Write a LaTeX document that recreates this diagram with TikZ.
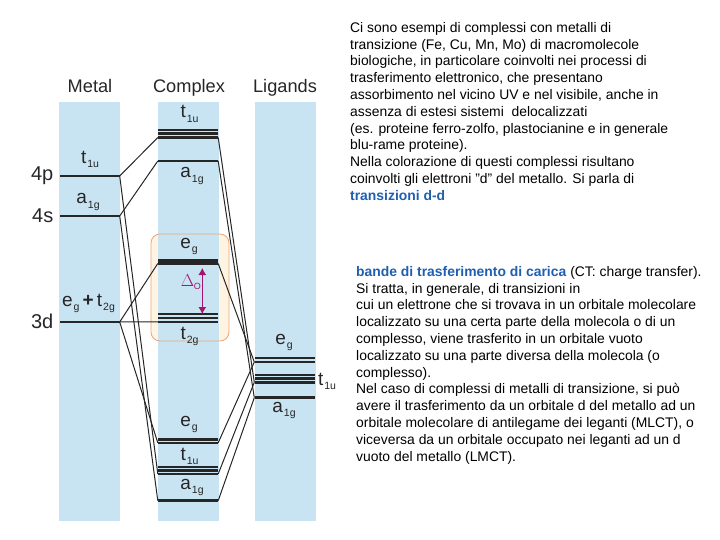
\documentclass[tikz,border=0pt]{standalone}
\usepackage{fontspec}
\setmainfont{Liberation Sans}
\usepackage{xcolor}
\usetikzlibrary{arrows.meta}
\definecolor{colblue}{HTML}{C8E4F2}
\definecolor{boxfill}{HTML}{FFF3E2}
\definecolor{boxline}{HTML}{E6A87C}
\definecolor{inkdark}{HTML}{262626}
\definecolor{textblue}{HTML}{1F5FB0}
\definecolor{deltacol}{HTML}{A3146F}
\tikzset{
  level/.style    = {shape=rectangle, fill=inkdark, inner sep=0pt,
                     minimum height=2.6pt, minimum width=60pt},
  link/.style     = {draw=inkdark, line width=1pt},
  title/.style    = {font=\fontsize{18.2}{20}\selectfont, text=inkdark, anchor=base},
  orbital/.style  = {font=\fontsize{19}{21}\selectfont, text=inkdark, anchor=base, inner sep=0pt},
  shell/.style    = {font=\fontsize{20}{22}\selectfont, text=inkdark, anchor=east, inner sep=0pt},
  para/.style     = {font=\fontsize{13.9}{16.8}\selectfont, text=black, anchor=north west,
                     align=left, inner sep=0pt}
}
\newcommand{\orb}[2]{#1\kern1pt\raisebox{-4.5pt}{\fontsize{10.5}{12}\selectfont #2}}
\newcommand{\hot}[1]{\textcolor{textblue}{\textbf{#1}}}

\begin{document}
\begin{tikzpicture}[x=1pt,y=-1pt]
  \useasboundingbox (0,0) rectangle (720,540);
  % orange frame sits under the columns
  \fill[boxfill,rounded corners=9pt] (151,234) rectangle (229,341);
  \foreach \x in {58.5,158,255} {
    \fill[colblue] (\x,102) rectangle ++(61,419);
  }
  \draw[boxline,line width=0.8pt,rounded corners=9pt] (151,234) rectangle (229,341);

  % levels
  \foreach \n/\x/\y in {
      mp/89.5/176, ms/89.5/216, md/89.5/322,
      ctA/188/130, ctB/188/133.5, ctC/188/137.5, caA/188/161,
      ceA/188/260.7, ceB/188/263.5,
      cdA/188/314, cdB/188/318, cdC/188/321.8,
      ceC/188/439.7, ceD/188/442.8,
      ctD/188/467, ctE/188/470.4, ctF/188/474, caB/188/500.7,
      leA/284.5/358, leB/284.5/362,
      ltA/284.5/375, ltB/284.5/378.5, ltC/284.5/382.3, laA/284.5/397.7} {
    \node[level] (\n) at (\x,\y) {};
  }

  % connectors
  \foreach \a/\b in {mp/ctC, mp/ctF, ms/caA, ms/caB, md/ceB, md/cdC, md/ceD} {
    \draw[link] (\a.east) -- (\b.west);
  }
  \foreach \a/\b in {ctC/ltC, ctF/ltC, caA/laA, caB/laA, ceB/leB, ceD/leB} {
    \draw[link] (\a.east) -- (\b.west);
  }

  % splitting arrow
  \coordinate (dtop) at (202.3,268);
  \coordinate (dbot) at (202.3,314);
  \draw[deltacol,line width=1pt,{Latex[length=7pt,width=8pt]}-{Latex[length=7pt,width=8pt]}] (dtop) -- (dbot);
  \node[text=deltacol,inner sep=0pt,anchor=east,font=\fontsize{16}{18}\selectfont] (delta) at (201,282)
    {$\Delta$\kern-0.5pt\raisebox{-3pt}{\fontsize{9}{10}\selectfont O}};

  % titles
  \node[title] (metal) at (90,93) {Metal};
  \node[title] (complex) at (189,93) {Complex};
  \node[title] (ligands) at (285,93) {Ligands};

  % orbital names
  \foreach \n/\x/\y/\s/\t in {
      omt/90/163.5/t/1u, oma/88/204/a/1g, oet/88.5/306/x/x,
      oct/189.5/118/t/1u, oca/192/178/a/1g, oce/189/248/e/g,
      ocd/189.5/339/t/2g, ocf/189/426/e/g, ocu/189.5/460/t/1u, ocb/192/489/a/1g,
      ole/284/344/e/g, olt/327/385/t/1u, olb/284/412/a/1g} {
    \node[orbital] (\n) at (\x,\y) {\if\s x\orb{e}{g}\,\textbf{+}\,\orb{t}{2g}\else\orb{\s}{\t}\fi};
  }

  % shells
  \node[shell] (sp) at (53.5,176) {4p};
  \node[shell] (ss) at (53.5,216) {4s};
  \node[shell] (sd) at (53.5,321) {3d};

  % right hand text
  \node[para] (upper) at (350,22) {
    Ci sono esempi di complessi con metalli di\\
    transizione (Fe, Cu, Mn, Mo) di macromolecole\\
    biologiche, in particolare coinvolti nei processi di\\
    trasferimento elettronico, che presentano\\
    assorbimento nel vicino UV e nel visibile, anche in\\
    assenza di estesi sistemi\ \ delocalizzati\\
    (es. proteine ferro-zolfo, plastocianine e in generale\\
    blu-rame proteine).\\
    Nella colorazione di questi complessi risultano\\
    coinvolti gli elettroni "d" del metallo. Si parla di\\
    \hot{transizioni d-d}};
  \node[para] (lower) at (356,266) {
    \hot{bande di trasferimento di carica} (CT: charge transfer).\\
    Si tratta, in generale, di transizioni in\\
    cui un elettrone che si trovava in un orbitale molecolare\\
    localizzato su una certa parte della molecola o di un\\
    complesso, viene trasferito in un orbitale vuoto\\
    localizzato su una parte diversa della molecola (o\\
    complesso).\\
    Nel caso di complessi di metalli di transizione, si può\\
    avere il trasferimento da un orbitale d del metallo ad un\\
    orbitale molecolare di antilegame dei leganti (MLCT), o\\
    viceversa da un orbitale occupato nei leganti ad un d\\
    vuoto del metallo (LMCT).};
\end{tikzpicture}
\end{document}
